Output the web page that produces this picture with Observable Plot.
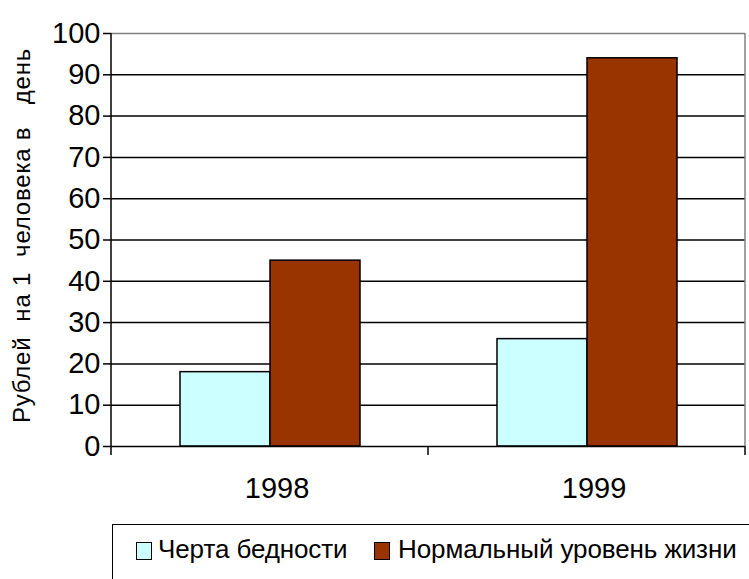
<!DOCTYPE html>
<html>
<head>
<meta charset="utf-8">
<script src="https://cdn.jsdelivr.net/npm/d3@7"></script>
<script src="https://cdn.jsdelivr.net/npm/@observablehq/plot@0.6"></script>
<style>
  html, body { margin: 0; padding: 0; background: #fff; overflow: hidden; }
  body { width: 749px; height: 579px; position: relative; font-family: "Liberation Sans", Arial, sans-serif; }
  #legend { position: absolute; left: 112px; top: 524px; width: 700px; height: 80px;
    border: 1.5px solid #000; box-sizing: border-box; }
  .item { position: absolute; top: 9px; display: flex; align-items: center; font-size: 26px; letter-spacing: -0.1px; color: #000; line-height: 30px; }
  .sw { width: 14px; height: 16px; border: 1px solid #000; margin-top: 3px; }
</style>
</head>
<body>
<div id="chart"></div>
<div id="legend"></div>
<script>
const years = ["1998", "1999"];
const series = ["Черта бедности", "Нормальный уровень жизни"];
const poverty = [18, 26];
const normal = [45, 94];
const colors = ["#CCFFFF", "#993300"];
const yTicks = [0, 10, 20, 30, 40, 50, 60, 70, 80, 90, 100];
const gridTicks = [10, 20, 30, 40, 50, 60, 70, 80, 90];
const yLabel = "Рублей\u00A0\u00A0на 1\u00A0\u00A0человека в\u00A0\u00A0\u00A0день";

const data = [];
years.forEach((yr, i) => {
  data.push({year: yr, series: series[0], value: poverty[i]});
  data.push({year: yr, series: series[1], value: normal[i]});
});

const plot = Plot.plot({
  width: 749,
  height: 520,
  marginLeft: 110,
  marginRight: 4,
  marginTop: 33,
  marginBottom: 74,
  style: {fontFamily: "'Liberation Sans', Arial, sans-serif", color: "#000", background: "#fff"},
  fx: {domain: years, padding: 0, label: null},
  x: {domain: series, paddingInner: 0, paddingOuter: 0.754, axis: null},
  y: {domain: [0, 100], label: null},
  color: {domain: series, range: colors},
  marks: [
    Plot.ruleY(gridTicks, {stroke: "#000", strokeWidth: 1.5}),
    Plot.ruleY([100], {stroke: "#808080", strokeWidth: 1.5}),
    Plot.barY(data, {fx: "year", x: "series", y: "value", fill: "series", stroke: "#000", strokeWidth: 1.5, inset: 0}),
    Plot.ruleY([0], {stroke: "#000", strokeWidth: 1.5}),
    Plot.axisY({ticks: yTicks, tickSize: 8, tickPadding: 3, fontSize: 29, label: null, strokeWidth: 1.5}),
    Plot.axisFx({anchor: "bottom", tickSize: 0, tickPadding: 31, dx: 7, fontSize: 29, label: null})
  ]
});
document.getElementById("chart").appendChild(plot);

// axis line, category separator ticks and right border from the plot's own scales
const fx = plot.scale("fx");
const y = plot.scale("y");
const svg = d3.select(plot);
const y0 = y.apply(0), y100 = y.apply(100);
const bounds = [];
years.forEach((yr, i) => {
  const s = fx.apply(yr);
  if (i === 0) bounds.push(s);
  bounds.push(s + fx.bandwidth);
});
const g = svg.append("g").attr("stroke", "#000").attr("stroke-width", 1.5);
g.append("line").attr("x1", bounds[0]).attr("x2", bounds[0]).attr("y1", y100).attr("y2", y0 + 9);
bounds.slice(1).forEach(b => {
  g.append("line").attr("x1", b).attr("x2", b).attr("y1", y0).attr("y2", y0 + 9);
});
const last = bounds[bounds.length - 1];
svg.append("line").attr("x1", last).attr("x2", last).attr("y1", y100).attr("y2", y0)
  .attr("stroke", "#808080").attr("stroke-width", 1.5);

// y axis title
svg.append("text")
  .attr("transform", `translate(30,${(y0 + y100) / 2 - 4}) rotate(-90)`)
  .attr("text-anchor", "middle")
  .attr("font-size", 24)
  .attr("letter-spacing", "0.8px")
  .attr("font-family", "'Liberation Sans', Arial, sans-serif")
  .attr("fill", "#000")
  .text(yLabel);

// legend
const legend = document.getElementById("legend");
const lefts = [23, 261];
const gaps = [6, 8];
series.forEach((s, i) => {
  const it = document.createElement("div");
  it.className = "item";
  it.style.left = lefts[i] + "px";
  const sw = document.createElement("div");
  sw.className = "sw";
  sw.style.background = colors[i];
  sw.style.marginRight = gaps[i] + "px";
  const t = document.createElement("span");
  t.textContent = s;
  it.appendChild(sw);
  it.appendChild(t);
  legend.appendChild(it);
});
</script>
</body>
</html>
